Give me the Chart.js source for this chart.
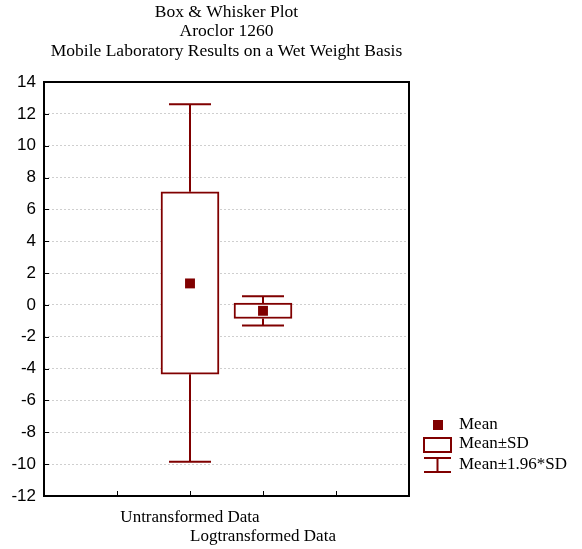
<!DOCTYPE html>
<html lang="en">
<head>
<meta charset="UTF-8">
<title>Box &amp; Whisker Plot - Aroclor 1260</title>
<script src="https://cdn.jsdelivr.net/npm/chart.js"></script>
<style>body { margin: 0; background: #fff; }</style>
</head>
<body>
<canvas id="boxChart" width="582" height="549"></canvas>
<script>
// values
const titleLines = ['Box & Whisker Plot', 'Aroclor 1260', 'Mobile Laboratory Results on a Wet Weight Basis'];
const groups = ['Untransformed Data', 'Logtransformed Data'];
const groupPos = [2, 3];
const means = [1.35, -0.37];
const sdLow = [-4.35, -0.85];
const sdHigh = [7.1, 0.11];
const ciLow = [-9.85, -1.29];
const ciHigh = [12.6, 0.55];
const legendLabels = ['Mean', 'Mean\u00b1SD', 'Mean\u00b11.96*SD'];

const red = '#800000';
const serif = '"Liberation Serif", "Times New Roman", serif';

const boxPlugin = {
    id: 'boxPlugin',
    beforeDatasetsDraw(chart) {
        const ctx = chart.ctx;
        const xs = chart.scales.x, ys = chart.scales.y;
        ctx.save();
        ctx.strokeStyle = red;
        ctx.lineWidth = 2;
        groupPos.forEach((p, i) => {
            const x = xs.getPixelForValue(p);
            ctx.beginPath();
            ctx.moveTo(x, ys.getPixelForValue(sdHigh[i]));
            ctx.lineTo(x, ys.getPixelForValue(ciHigh[i]));
            ctx.moveTo(x, ys.getPixelForValue(sdLow[i]));
            ctx.lineTo(x, ys.getPixelForValue(ciLow[i]));
            ctx.moveTo(x - 21, ys.getPixelForValue(ciHigh[i]));
            ctx.lineTo(x + 21, ys.getPixelForValue(ciHigh[i]));
            ctx.moveTo(x - 21, ys.getPixelForValue(ciLow[i]));
            ctx.lineTo(x + 21, ys.getPixelForValue(ciLow[i]));
            ctx.stroke();
        });
        ctx.restore();
    },
    afterDraw(chart) {
        const ctx = chart.ctx;
        const a = chart.chartArea;
        const xs = chart.scales.x, ys = chart.scales.y;
        ctx.save();

        // inward tick marks
        ctx.strokeStyle = '#000';
        ctx.lineWidth = 1;
        ctx.beginPath();
        ys.ticks.forEach(t => {
            const y = Math.round(ys.getPixelForValue(t.value)) + 0.5;
            ctx.moveTo(a.left, y);
            ctx.lineTo(a.left + 5, y);
        });
        xs.ticks.forEach(t => {
            const x = Math.round(xs.getPixelForValue(t.value)) + 0.5;
            ctx.moveTo(x, a.bottom);
            ctx.lineTo(x, a.bottom - 5);
        });
        ctx.stroke();

        // frame
        ctx.lineWidth = 2;
        ctx.strokeRect(a.left, a.top, a.right - a.left, a.bottom - a.top);

        // title
        ctx.fillStyle = '#000';
        ctx.font = '17.5px ' + serif;
        ctx.textAlign = 'center';
        ctx.textBaseline = 'middle';
        const cx = (a.left + a.right) / 2;
        [12, 31, 51].forEach((y, i) => ctx.fillText(titleLines[i], cx, y));

        // legend
        ctx.font = '17px ' + serif;
        ctx.textAlign = 'left';
        ctx.fillStyle = red;
        ctx.fillRect(433, 420, 10, 10);
        ctx.strokeStyle = red;
        ctx.lineWidth = 2;
        ctx.strokeRect(424, 438, 27, 14);
        ctx.beginPath();
        ctx.moveTo(424, 458); ctx.lineTo(451, 458);
        ctx.moveTo(424, 472); ctx.lineTo(451, 472);
        ctx.moveTo(437.5, 458); ctx.lineTo(437.5, 472);
        ctx.stroke();
        ctx.fillStyle = '#000';
        [425, 444, 465].forEach((y, i) => ctx.fillText(legendLabels[i], 459, y));
        ctx.restore();
    }
};

const ctx = document.getElementById('boxChart').getContext('2d');
const boxChart = new Chart(ctx, {
    type: 'bar',
    data: {
        datasets: [{
            type: 'scatter',
            label: 'Mean',
            data: groupPos.map((p, i) => ({ x: p, y: means[i] })),
            pointStyle: 'rect',
            pointRadius: 7,
            pointBackgroundColor: red,
            pointBorderWidth: 0,
            order: 0
        }, {
            type: 'bar',
            label: 'Mean\u00b1SD',
            data: groupPos.map((p, i) => ({ x: p, y: [sdLow[i], sdHigh[i]] })),
            backgroundColor: '#fff',
            borderColor: red,
            borderWidth: 2,
            borderSkipped: false,
            barThickness: 58,
            order: 1
        }]
    },
    options: {
        responsive: false,
        animation: false,
        layout: { padding: { left: 0, top: 82, right: 173, bottom: 0 } },
        plugins: {
            legend: { display: false },
            title: { display: false },
            tooltip: { enabled: false }
        },
        scales: {
            x: {
                type: 'linear',
                min: 0,
                max: 5,
                offset: false,
                grid: { display: false, drawTicks: false, offset: false },
                border: { display: false },
                afterFit: s => { s.height = 53; },
                ticks: {
                    stepSize: 1,
                    autoSkip: false,
                    maxRotation: 0,
                    padding: 12,
                    color: '#000',
                    font: { family: serif, size: 17, lineHeight: 1.1 },
                    callback: v => {
                        const i = groupPos.indexOf(v);
                        if (i < 0) return '';
                        return i === 1 ? ['', groups[i]] : groups[i];
                    }
                }
            },
            y: {
                min: -12,
                max: 14,
                grid: { color: '#cfcfcf', lineWidth: 1, drawTicks: false },
                border: { display: false, dash: [2, 2] },
                afterFit: s => { s.width = 44; },
                ticks: {
                    stepSize: 2,
                    padding: 8,
                    color: '#000',
                    font: { family: '"Liberation Sans", Arial, sans-serif', size: 17 }
                }
            }
        }
    },
    plugins: [boxPlugin]
});
</script>
</body>
</html>
